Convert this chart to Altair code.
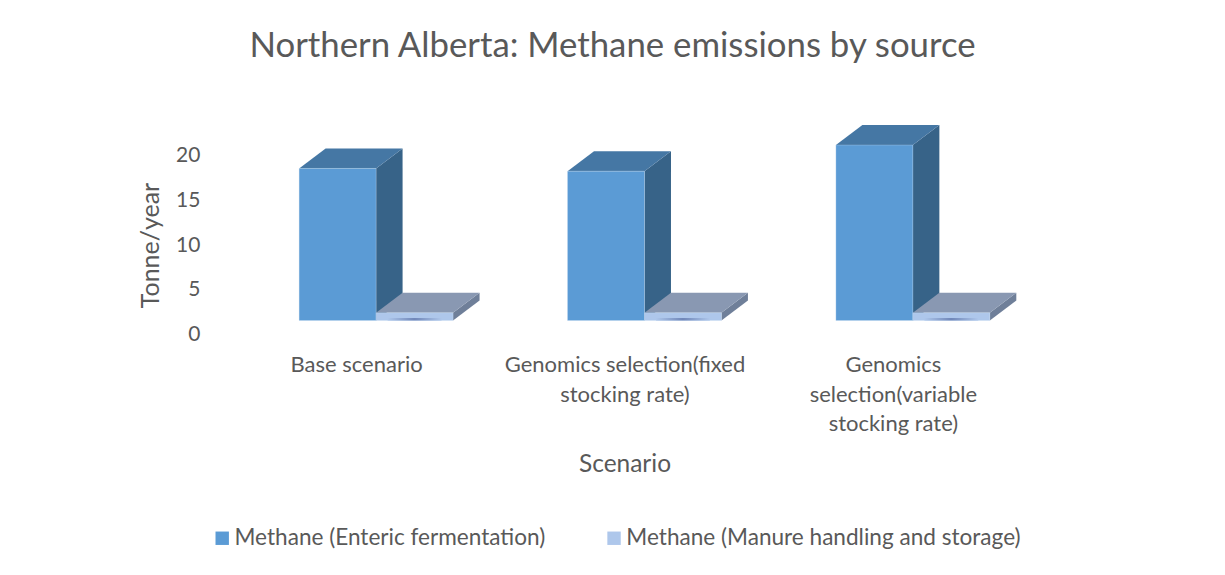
import json
import altair as alt
import pandas as pd

categories = ["Base scenario", "Genomics selection(fixed stocking rate)", "Genomics selection(variable stocking rate)"]
label_lines = [["Base scenario"], ["Genomics selection(fixed", "stocking rate)"], ["Genomics", "selection(variable", "stocking rate)"]]
positions = [1, 2, 3]
enteric = [16.9, 16.6, 19.5]
manure = [0.85, 0.85, 0.85]
series_names = ["Methane (Enteric fermentation)", "Methane (Manure handling and storage)"]

FONT = "Lato"
TXT = "#595959"
UX = 268.5   # px per x unit
UY = 9.0     # px per y unit
FLOOR = 14.5 / UY
DX = 26.5 / UX
DY = 20 / UY
BAR = 77 / UX
START = -57 / UX

front, tops, sides, spots = [], [], [], []
for s, vals in enumerate([enteric, manure]):
    for p, v in zip(positions, vals):
        x0 = p + START + s * BAR
        x1 = x0 + BAR
        b, t = FLOOR, FLOOR + v
        front.append(dict(series=series_names[s], x0=x0, x1=x1, b=b, t=t, cat=p))
        for x, lo, hi in [(x0, t, t), (x0 + DX, t, t + DY), (x1, t, t + DY), (x1 + DX, t + DY, t + DY)]:
            tops.append(dict(s=s, cat=p, x=x, lo=lo, hi=hi))
        for x, lo, hi in [(x1, b, t), (x1 + DX, b + DY, t + DY)]:
            sides.append(dict(s=s, cat=p, x=x, lo=lo, hi=hi))
        if s == 1:
            spots.append(dict(x0=x0 + BAR * 0.15, x1=x1 - BAR * 0.15, b=b, t=b + 0.28))

front, tops, sides, spots = map(pd.DataFrame, (front, tops, sides, spots))

x_scale = alt.Scale(domain=[0.5, 3.5], nice=False, zero=False)
y_scale = alt.Scale(domain=[0, 25], nice=False, zero=False)
label_map = json.dumps({str(p): l for p, l in zip(positions, label_lines)})

x_axis = alt.Axis(
    values=positions,
    labelExpr=f"{label_map}[toString(datum.value)]",
    domain=False, ticks=False, grid=False,
    labelFontSize=22, labelLimit=400,
    labelFont=FONT, labelColor=TXT, labelPadding=20, labelLineHeight=29.5,
    labelBaseline="top", labelAlign="center",
    titleFont=FONT, titleFontSize=24.5, titleFontWeight="normal", titleColor=TXT, titlePadding=18,
    labelOverlap=False, labelFlush=False,
)
y_axis = alt.Axis(
    values=[0, 5, 10, 15, 20], format="d",
    domain=False, ticks=False, grid=False,
    labelFontSize=21, labelFont=FONT, labelColor=TXT, labelPadding=22,
    titleFont=FONT, titleFontSize=25, titleFontWeight="normal", titleColor=TXT, titlePadding=12,
    titleY=135,
)


def face(df, s, color):
    return alt.Chart(df[df.s == s]).mark_area(color=color, orient="vertical", opacity=1, clip=False).encode(
        x=alt.X("x:Q", scale=x_scale, axis=x_axis, title="Scenario"),
        y=alt.Y("hi:Q", scale=y_scale, axis=y_axis, title="Tonne/year"),
        y2="lo:Q",
        detail="cat:N",
    )


front_layer = alt.Chart(front).mark_rect(stroke="#C9DDF2", strokeWidth=0.3).encode(
    x=alt.X("x0:Q", scale=x_scale, axis=x_axis, title="Scenario"),
    x2="x1:Q",
    y=alt.Y("b:Q", scale=y_scale, axis=y_axis, title="Tonne/year"),
    y2="t:Q",
    color=alt.Color(
        "series:N",
        scale=alt.Scale(domain=series_names, range=["#5B9BD5", "#AEC7EB"]),
        legend=alt.Legend(
            title=None, orient="none", legendX=-11, legendY=417, direction="horizontal",
            symbolType="square", symbolSize=180, symbolStrokeWidth=0, symbolOpacity=1,
            labelFont=FONT, labelFontSize=22.6, labelColor=TXT, columnPadding=57, labelOffset=1,
            labelLimit=600, columns=2,
        ),
    ),
)

spot = alt.Chart(spots).mark_rect(
    fill=alt.RadialGradient(
        gradient="radial",
        stops=[alt.GradientStop(color="#6F86B8", offset=0), alt.GradientStop(color="#AEC7EB", offset=1)],
    )
).encode(
    x=alt.X("x0:Q", scale=x_scale, axis=x_axis, title="Scenario"),
    x2="x1:Q",
    y=alt.Y("b:Q", scale=y_scale, axis=y_axis, title="Tonne/year"),
    y2="t:Q",
)

chart = alt.layer(
    face(sides, 0, "#376388"),
    face(tops, 0, "#4577A4"),
    face(sides, 1, "#6F7F99"),
    face(tops, 1, "#8998B2"),
    front_layer,
    spot,
).properties(
    width=805.5,
    height=225,
    autosize=alt.AutoSizeParams(type="none"),
    padding={"left": 214, "top": 102, "right": 190, "bottom": 228},
    title=alt.TitleParams(
        "Northern Alberta: Methane emissions by source",
        font=FONT, fontSize=34.8, fontWeight="normal", color=TXT,
        anchor="middle", frame="group", dx=-12, offset=45,
    ),
).configure_view(stroke=None)

chart.save("out.html", embed_options={"renderer": "svg", "actions": False})
